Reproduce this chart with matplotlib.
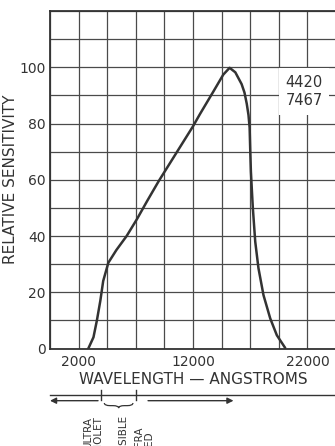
import matplotlib
matplotlib.use("Agg")
import matplotlib.pyplot as plt
from matplotlib.path import Path
from matplotlib.patches import PathPatch
from matplotlib.transforms import blended_transform_factory

# values
wavelength = [2850, 3300, 3600, 3900, 4150, 4600, 5300, 6200, 7100, 8000,
              9000, 10000, 11000, 12000, 12600, 13800, 14650, 15200, 15700,
              16250, 16500, 16700, 16850, 16950, 17000, 17060, 17150, 17230,
              17440, 17720, 18160, 18750, 19330, 20060]
sensitivity = [0, 4, 10, 17, 24, 30.5, 35, 40, 46, 52.5,
               59.5, 66, 72.5, 79, 83.3, 91.5, 97.4, 99.8, 98.2,
               94, 91, 87, 83, 78.5, 71, 63, 56, 50,
               38, 28.6, 19, 10.7, 4.7, 0.2]

x_labels = [2000, 12000, 22000]
x_grid = [-500, 4500, 7000, 9500, 14500, 17000, 19500, 24500]
y_labels = [0, 20, 40, 60, 80, 100]
y_grid = [10, 30, 50, 70, 90, 110, 120]

tube_numbers = "4420\n7467"

# spectrum band boundaries (angstroms) for the legend under the axis
band_bounds = [4000, 7000]
band_names = ["ULTRA\nVIOLET", "VISIBLE", "INFRA\nRED"]
band_label_x = [3300, 6000, 7700]

ink = "#333333"
grid_ink = "#4a4a4a"

fig = plt.figure(figsize=(3.35, 4.46), dpi=100)
ax = fig.add_axes([50 / 335, (446 - 348.5) / 446, 286 / 335, 337.5 / 446])

ax.set_xlim(-500, 24500)
ax.set_ylim(0, 120)

ax.set_xticks(x_labels)
ax.set_xticks(x_grid, minor=True)
ax.set_yticks(y_labels)
ax.set_yticks(y_grid, minor=True)
ax.grid(True, which="both", color=grid_ink, linewidth=0.9)
ax.set_axisbelow(True)
ax.tick_params(which="both", length=0)
ax.tick_params(axis="x", pad=4.5, labelsize=10, labelcolor=ink)
ax.tick_params(axis="y", pad=3.0, labelsize=10, labelcolor=ink)
for s in ax.spines.values():
    s.set_color(ink)
    s.set_linewidth(1.3)

ax.plot(wavelength, sensitivity, color=ink, linewidth=1.8,
        solid_joinstyle="round", solid_capstyle="round", zorder=3)

ax.text(21700, 91.4, tube_numbers, ha="center", va="center", fontsize=10.5,
        color=ink, linespacing=1.25, zorder=4,
        bbox=dict(boxstyle="square,pad=0.45", facecolor="white", edgecolor="none"))

ax.set_xlabel("WAVELENGTH \u2014 ANGSTROMS", fontsize=11, color=ink, labelpad=2)
ax.set_ylabel("RELATIVE SENSITIVITY", fontsize=11, color=ink)
ax.yaxis.set_label_coords(-0.112, 0.5)

# spectrum band legend below the chart
tr = blended_transform_factory(ax.transData, fig.transFigure)
tr_ax = blended_transform_factory(ax.transAxes, fig.transFigure)
fig.add_artist(plt.Line2D([0, 1], [0.1143, 0.1143], transform=tr_ax,
                          color=ink, linewidth=1.0))
for b in band_bounds:
    fig.add_artist(plt.Line2D([b, b], [0.1031, 0.1256], transform=tr,
                              color=ink, linewidth=1.0))

ax.annotate("", xy=(-500, 0.1016), xytext=(3700, 0.1016),
            xycoords=tr, textcoords=tr, annotation_clip=False,
            arrowprops=dict(arrowstyle="-|>", color=ink, lw=1.0,
                            mutation_scale=9, shrinkA=0, shrinkB=0))
ax.annotate("", xy=(15540, 0.1016), xytext=(8070, 0.1016),
            xycoords=tr, textcoords=tr, annotation_clip=False,
            arrowprops=dict(arrowstyle="-|>", color=ink, lw=1.0,
                            mutation_scale=9, shrinkA=0, shrinkB=0))

# curly brace over the visible band
x0, x1 = band_bounds[0] + 250, band_bounds[1] - 250
xm = (x0 + x1) / 2
q = 500
ytop, ymid, ytip = 0.0964, 0.0905, 0.0850
verts = [(x0, ytop), (x0, ymid), (x0 + q, ymid),
         (xm - q, ymid), (xm, ymid), (xm, ytip),
         (xm, ymid), (xm + q, ymid),
         (x1 - q, ymid), (x1, ymid), (x1, ytop)]
codes = [Path.MOVETO, Path.CURVE3, Path.CURVE3,
         Path.LINETO, Path.CURVE3, Path.CURVE3,
         Path.CURVE3, Path.CURVE3,
         Path.LINETO, Path.CURVE3, Path.CURVE3]
fig.add_artist(PathPatch(Path(verts, codes), transform=tr, facecolor="none",
                         edgecolor=ink, linewidth=0.9))

tops = [0.0660, 0.0695, 0.0433]
aligns = ["right", "center", "center"]
for name, bx, top, al in zip(band_names, band_label_x, tops, aligns):
    fig.text(bx, top, name, transform=tr, rotation=90, ha="center", va="top",
             fontsize=7.5, color=ink, linespacing=1.0, multialignment=al)

fig.savefig("out.png", dpi=100)
